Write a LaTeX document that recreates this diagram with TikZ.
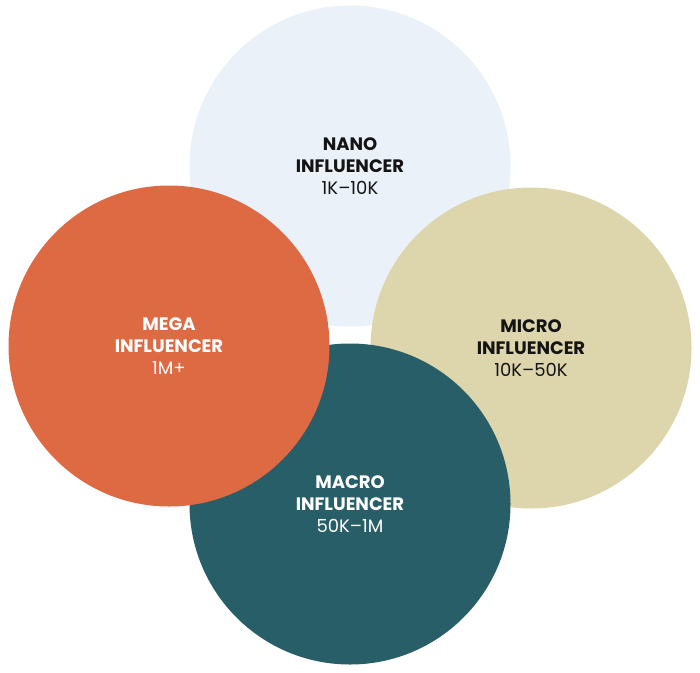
\documentclass[tikz,border=0pt]{standalone}
\usepackage{fontspec}
\setmainfont{Poppins}
\usetikzlibrary{positioning}

\definecolor{nanoblue}{HTML}{EBF1F8}
\definecolor{megaorange}{HTML}{DE6A43}
\definecolor{microsand}{HTML}{DDD5AB}
\definecolor{macroteal}{HTML}{275E67}
\definecolor{inkdark}{HTML}{141414}

\begin{document}
\begin{tikzpicture}[x=1pt, y=-1pt]
 \tikzset{bubble/.style={circle, minimum size=321pt, inner sep=0pt, align=center,
   font=\fontsize{18}{22}\selectfont}}
 \useasboundingbox (0,0) rectangle (700,672);

 % back to front: nano, micro, macro, mega
 \node[bubble, fill=nanoblue, text=inkdark] (nano) at (350,166)
   {\textbf{NANO}\\\textbf{INFLUENCER}\\1K–10K};
 \node[bubble, fill=microsand, text=inkdark] (micro) at (531,348)
   {\textbf{MICRO}\\\textbf{INFLUENCER}\\10K–50K};
 \node[bubble, fill=macroteal, text=white] (macro) at (350,504)
   {\textbf{MACRO}\\\textbf{INFLUENCER}\\50K–1M};
 \node[bubble, fill=megaorange, text=white] (mega) at (169,346)
   {\textbf{MEGA}\\\textbf{INFLUENCER}\\1M+};

\end{tikzpicture}
\end{document}
